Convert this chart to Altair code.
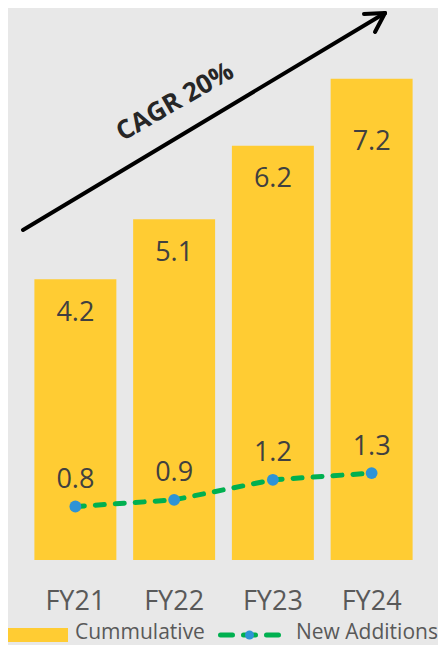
import altair as alt
import pandas as pd

years = ["FY21", "FY22", "FY23", "FY24"]
cumulative = [4.2, 5.1, 6.2, 7.2]
additions = [0.8, 0.9, 1.2, 1.3]
legend_labels = ["Cummulative", "New Additions"]
cagr_label = "CAGR 20%"

df = pd.DataFrame({"year": years, "cum": cumulative, "add": additions})

FONT = "Open Sans"
YELLOW = "#FFCC33"
GREEN = "#00B050"
BLUE = "#2E93D6"
LBL = 27

x_enc = alt.X(
    "year:N", sort=years,
    scale=alt.Scale(paddingInner=0.17, paddingOuter=0.085),
    axis=alt.Axis(title=None, labelAngle=0, domain=False, ticks=False,
                  labelFontSize=LBL, labelColor="#595959", labelPadding=28,
                  labelFont=FONT),
)
y_scale = alt.Scale(domain=[0, 8.26], nice=False, zero=True)

base = alt.Chart(df).encode(x=x_enc)

bars = base.mark_bar(color=YELLOW).encode(
    y=alt.Y("cum:Q", scale=y_scale, axis=None))

bar_labels = base.transform_filter(alt.datum.year != "FY24").mark_text(
    font=FONT, fontSize=LBL, color="#404040", baseline="middle", dy=33.5
).encode(y=alt.Y("cum:Q", scale=y_scale, axis=None), text=alt.Text("cum:Q", format=".1f"))

bar_label_last = base.transform_filter(alt.datum.year == "FY24").mark_text(
    font=FONT, fontSize=LBL, color="#404040", baseline="middle", dy=63.5
).encode(y=alt.Y("cum:Q", scale=y_scale, axis=None), text=alt.Text("cum:Q", format=".1f"))

line = base.mark_line(color=GREEN, strokeWidth=5, strokeDash=[9, 11], strokeCap="round").encode(
    y=alt.Y("add:Q", scale=y_scale, axis=None))

points = base.mark_circle(size=140, color=BLUE, opacity=1).encode(
    y=alt.Y("add:Q", scale=y_scale, axis=None))

line_labels = base.mark_text(
    font=FONT, fontSize=LBL, color="#404040", baseline="middle", dy=-26.5
).encode(y=alt.Y("add:Q", scale=y_scale, axis=None), text=alt.Text("add:Q", format=".1f"))

one = pd.DataFrame({"a": [0]})
ann = alt.Chart(one)

arrow_shaft = ann.mark_rule(color="black", strokeWidth=4, strokeCap="round").encode(
    x=alt.value(-3), y=alt.value(222), x2=alt.value(359), y2=alt.value(5))
arrow_h1 = ann.mark_rule(color="black", strokeWidth=4, strokeCap="round").encode(
    x=alt.value(359), y=alt.value(5), x2=alt.value(338), y2=alt.value(6))
arrow_h2 = ann.mark_rule(color="black", strokeWidth=4, strokeCap="round").encode(
    x=alt.value(359), y=alt.value(5), x2=alt.value(349), y2=alt.value(24))

cagr = alt.Chart(pd.DataFrame({"t": [cagr_label]})).mark_text(
    font=FONT, fontSize=26, fontWeight="bold", color="#262626", angle=330,
    align="center", baseline="middle"
).encode(x=alt.value(149), y=alt.value(94), text="t:N")

# legend
leg_rect = ann.mark_rect(color=YELLOW).encode(
    x=alt.value(-18), x2=alt.value(42), y=alt.value(620), y2=alt.value(634))
leg_text1 = alt.Chart(pd.DataFrame({"t": [legend_labels[0]]})).mark_text(
    font=FONT, fontSize=21, color="#595959", align="left", baseline="alphabetic"
).encode(x=alt.value(49), y=alt.value(631), text="t:N")
leg_line = ann.mark_rule(color=GREEN, strokeWidth=5, strokeDash=[12, 11], strokeCap="round").encode(
    x=alt.value(194.5), x2=alt.value(255.5), y=alt.value(627), y2=alt.value(627))
leg_dot = ann.mark_circle(size=80, color=BLUE, opacity=1).encode(
    x=alt.value(223.5), y=alt.value(627))
leg_text2 = alt.Chart(pd.DataFrame({"t": [legend_labels[1]]})).mark_text(
    font=FONT, fontSize=21, color="#595959", align="left", baseline="alphabetic"
).encode(x=alt.value(270), y=alt.value(631), text="t:N")

chart = alt.layer(
    bars, bar_labels, bar_label_last, line, points, line_labels,
    arrow_shaft, arrow_h1, arrow_h2, cagr,
    leg_rect, leg_text1, leg_line, leg_dot, leg_text2,
).properties(
    width=395, height=552,
    autosize=alt.AutoSizeParams(type="none"),
    padding={"left": 18, "top": 0, "right": 17, "bottom": 85},
    background="#E8E8E8",
).configure_view(stroke=None)

chart.save("out.html", embed_options={"renderer": "svg", "actions": False})
